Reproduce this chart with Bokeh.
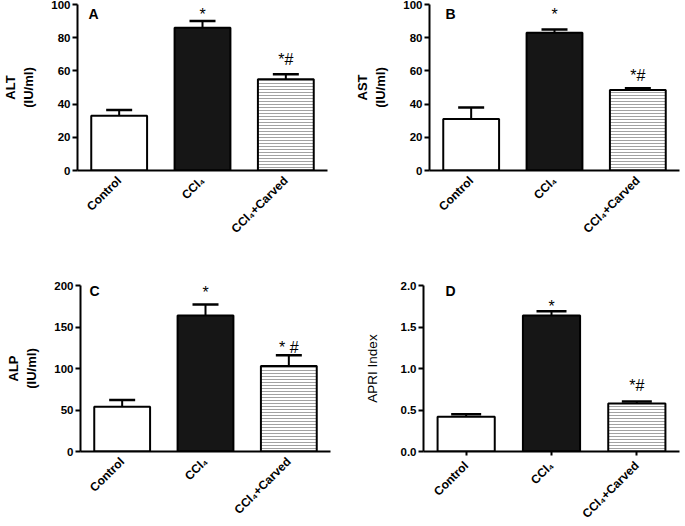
import math
from bokeh.plotting import figure
from bokeh.models import (ColumnDataSource, Range1d, FactorRange, FixedTicker,
                          Whisker, TeeHead, Label, NumeralTickFormatter, Row, Column)
from bokeh.embed import file_html
from bokeh.resources import INLINE
from bokeh.core.properties import value

groups = ["Control", "CCl\u2084", "CCl\u2084+Carved"]

alt_mean = [33, 86, 55]
alt_err = [3.5, 4, 3]
ast_mean = [31, 83, 48.5]
ast_err = [7, 2, 1]
alp_mean = [54, 164, 103]
alp_err = [8, 13, 13]
apri_mean = [0.42, 1.64, 0.578]
apri_err = [0.03, 0.05, 0.024]

sig_ab = ["", "*", "*#"]
sig_c = ["", "*", "* #"]
sig_d = ["", "*", "*#"]

alt_ticks = [0, 20, 40, 60, 80, 100]
ast_ticks = [0, 20, 40, 60, 80, 100]
alp_ticks = [0, 50, 100, 150, 200]
apri_ticks = [0.0, 0.5, 1.0, 1.5, 2.0]

bar_fill = ["white", "#161616", "white"]
bar_hatch = [" ", " ", "-"]

FONT = "Liberation Sans"


def panel(letter, ylabel, means, errs, sigs, sig_off, ymax, ticks, fw, fh,
          bl, br, bt, bb, letter_dx, letter_dy, label_bold=True, fmt=None,
          xtick=0, label_size="13px", label_standoff=12, cap=26):
    src = ColumnDataSource(dict(
        g=groups, m=means, up=[m + e for m, e in zip(means, errs)],
        fill=bar_fill, hatch=bar_hatch, sig=sigs, soff=sig_off))
    p = figure(x_range=FactorRange(factors=groups, range_padding=0),
               y_range=Range1d(0, ymax), frame_width=fw, frame_height=fh,
               output_backend="svg", toolbar_location=None,
               min_border_left=bl, min_border_right=br,
               min_border_top=bt, min_border_bottom=bb)
    p.outline_line_color = None
    p.xgrid.grid_line_color = None
    p.ygrid.grid_line_color = None
    p.background_fill_color = None
    p.border_fill_color = None

    p.vbar(x="g", top="m", bottom=0, width=0.67, source=src,
           fill_color="fill", line_color="black", line_width=2,
           hatch_pattern="hatch", hatch_color="#8a8a8a", hatch_scale=3,
           hatch_weight=0.8)
    w = Whisker(base="g", lower="m", upper="up", source=src, line_width=2,
                line_color="black", dimension="height",
                upper_head=TeeHead(size=cap, line_width=2.5, line_color="black"),
                lower_head=None, level="overlay")
    p.add_layout(w)
    p.text(x="g", y="up", text="sig", source=src, y_offset="soff",
           text_align="center", text_baseline="alphabetic",
           text_font=value(FONT), text_font_size="16px", text_color="black")

    p.add_layout(Label(x=0, y=ymax, x_offset=letter_dx, y_offset=-letter_dy,
                       text=letter, text_baseline="top", text_align="left",
                       text_font=FONT, text_font_style="bold",
                       text_font_size="14px", text_color="black"))

    for ax in (p.xaxis[0], p.yaxis[0]):
        ax.axis_line_width = 2
        ax.axis_line_color = "black"
        ax.major_tick_line_width = 2
        ax.major_tick_line_color = "black"
        ax.minor_tick_line_color = None
        ax.major_label_text_font = FONT
        ax.major_label_text_font_style = "bold"
        ax.major_label_text_color = "black"

    p.yaxis.ticker = FixedTicker(ticks=ticks)
    p.yaxis.major_tick_out = 5
    p.yaxis.major_tick_in = 0
    p.yaxis.major_label_standoff = 2
    p.yaxis.major_label_text_font_size = "11.5px"
    if fmt:
        p.yaxis.formatter = NumeralTickFormatter(format=fmt)
    p.yaxis.axis_label = ylabel
    p.yaxis.axis_label_text_font = FONT
    p.yaxis.axis_label_text_font_style = "bold" if label_bold else "normal"
    p.yaxis.axis_label_text_font_size = label_size
    p.yaxis.axis_label_text_color = "black"
    p.yaxis.axis_label_standoff = label_standoff

    p.xaxis.major_tick_out = xtick
    p.xaxis.major_tick_in = 0
    p.xaxis.major_label_orientation = math.pi / 4
    p.xaxis.major_label_text_font_size = "12px"
    p.xaxis.major_label_standoff = 8
    return p


a = panel("A", "ALT\n(IU/ml)", alt_mean, alt_err, sig_ab, [0, -7, -15], 100,
          alt_ticks, 250, 166, 77, 10, 4, 93, 11, 1)
b = panel("B", "AST\n(IU/ml)", ast_mean, ast_err, sig_ab, [0, -15, -13], 100,
          ast_ticks, 250, 166, 92, 2, 4, 93, 16, 1)
c = panel("C", "ALP\n(IU/ml)", alp_mean, alp_err, sig_c, [0, -12, -8], 200,
          alp_ticks, 250, 166, 80, 7, 20, 75, 9, -3)
d = panel("D", "APRI Index", apri_mean, apri_err, sig_d, [0, -5, -16], 2.0,
          apri_ticks, 256, 166, 86, 2, 22, 73, 22, -3, label_bold=False,
          fmt="0.0", xtick=4, label_size="13.5px", label_standoff=18, cap=30)

root = Column(children=[Row(children=[a, b], spacing=0),
                        Row(children=[c, d], spacing=0)],
              spacing=0)

open("out.html", "w").write(file_html(root, INLINE))
